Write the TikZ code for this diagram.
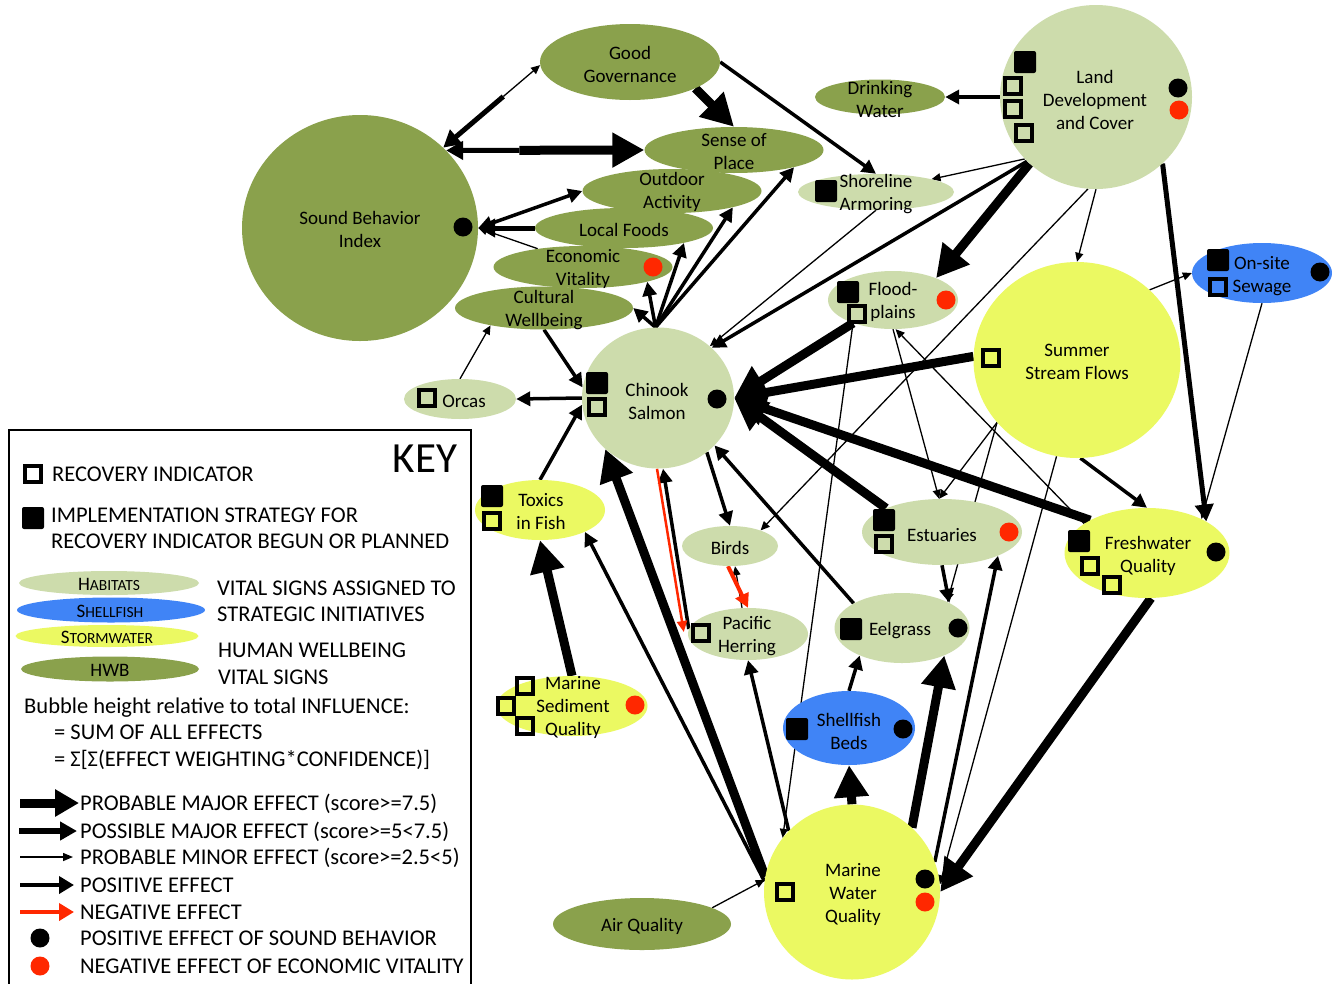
\documentclass[tikz,border=0pt]{standalone}
\usepackage{fontspec}
\setmainfont{Carlito}
\usetikzlibrary{shapes.geometric,arrows.meta,calc}
\definecolor{hwbc}{RGB}{138,161,76}
\definecolor{habc}{RGB}{205,220,172}
\definecolor{shfc}{RGB}{64,132,246}
\definecolor{stwc}{RGB}{235,249,98}
\definecolor{redc}{RGB}{255,40,0}
\pgfdeclarelayer{bg}
\pgfdeclarelayer{edges}
\pgfsetlayers{bg,edges,main}
\newcommand\OSq[2]{\draw[line width=3.5pt] (#1-8,#2-8) rectangle (#1+8,#2+8);}
\newcommand\FSq[2]{\fill[rounded corners=2pt] (#1-11,#2-11) rectangle (#1+11,#2+11);}
\newcommand\BDot[2]{\fill (#1,#2) circle[radius=9.5pt];}
\newcommand\RDot[2]{\fill[redc] (#1,#2) circle[radius=9.5pt];}
\newcommand\SCap[2]{{\fontsize{19}{19}\selectfont #1}{\fontsize{15.5}{15.5}\selectfont #2}}
\begin{document}
\begin{tikzpicture}[x=1pt,y=-1pt,
  bub/.style={ellipse,inner sep=0pt,draw=none},
  sz/.style 2 args={minimum width=#1pt,minimum height=#2pt},
  hwb/.style={bub,fill=hwbc},
  hab/.style={bub,fill=habc},
  shf/.style={bub,fill=shfc},
  stw/.style={bub,fill=stwc},
  txt/.style={align=center,inner sep=0pt,font=\fontsize{19}{23}\selectfont},
  ktxt/.style={anchor=base west,inner sep=0pt,font=\fontsize{22.5}{27}\selectfont},
  major/.style={line width=9pt,-{Triangle[length=32pt,width=33pt]}},
  possmaj/.style={line width=5pt,-{Triangle[length=17pt,width=18pt]}},
  medium/.style={line width=3.5pt,-{Triangle[length=14pt,width=14pt]}},
  minor/.style={line width=1.3pt,-{Triangle[length=9pt,width=8pt]}},
  negthin/.style={draw=redc,line width=2.5pt,-{Triangle[length=11pt,width=10pt]}},
  negmed/.style={draw=redc,line width=4pt,-{Triangle[length=14pt,width=14pt]}},
]
\useasboundingbox (0,0) rectangle (1340,983);
\begin{pgfonlayer}{bg}
\fill[white] (0,0) rectangle (1340,983);
\end{pgfonlayer}

% ---------- bubbles ----------
\node[hwb,sz={236}{226}] (sbi) at (360,228) {};
\node[hwb,sz={180}{76}] (gg) at (630,62) {};
\node[hwb,sz={179}{46}] (sop) at (734,150) {};
\node[hwb,sz={179}{44}] (oa) at (672,191) {};
\node[hwb,sz={178}{40}] (lf) at (624,228) {};
\node[hwb,sz={179}{42}] (ev) at (583,267) {};
\node[hwb,sz={178}{43}] (cw) at (544,308) {};
\node[hwb,sz={130}{35}] (drink) at (880,97) {};
\node[hwb,sz={178}{52}] (air) at (642,924) {};

\node[hab,sz={192}{184}] (ld) at (1096,97) {};
\node[hab,sz={156}{36}] (shore) at (876,192) {};
\node[hab,sz={130}{58}] (flood) at (893,300) {};
\node[hab,sz={152}{141}] (chinook) at (658,398) {};
\node[hab,sz={112}{40}] (orcas) at (460,399) {};
\node[hab,sz={96}{40}] (birds) at (730,546) {};
\node[hab,sz={120}{52}] (herring) at (748,634) {};
\node[hab,sz={160}{66}] (estu) at (942,532) {};
\node[hab,sz={135}{70}] (eel) at (902,628) {};

\node[shf,sz={140}{60}] (sewage) at (1262,273) {};
\node[shf,sz={132}{74}] (shell) at (849,728) {};

\node[stw,sz={207}{196}] (ssf) at (1077,360) {};
\node[stw,sz={165}{90}] (fq) at (1147,553) {};
\node[stw,sz={130}{60}] (toxics) at (540,510) {};
\node[stw,sz={151}{60}] (msq) at (572,706) {};
\node[stw,sz={176}{175}] (mwq) at (852,892) {};

% ---------- texts ----------
\node[txt] (sbiT) at (360,229) {Sound Behavior\\Index};
\node[txt] (ggT) at (630,64) {Good\\Governance};
\node[txt] (sopT) at (734,152) {Sense of\\Place};
\node[txt] (oaT) at (672,192) {Outdoor\\Activity};
\node[txt] (lfT) at (624,230) {Local Foods};
\node[txt] (evT) at (583,269) {Economic\\Vitality};
\node[txt] (cwT) at (544,310) {Cultural\\Wellbeing};
\node[txt] (drinkT) at (880,99) {Drinking\\Water};
\node[txt] (airT) at (642,926) {Air Quality};
\node[txt] (ldT) at (1095,100) {Land\\Development\\and Cover};
\node[txt] (shoreT) at (876,194) {Shoreline\\Armoring};
\node[txt] (floodT) at (893,302) {Flood-\\plains};
\node[txt] (chinookT) at (657,401) {Chinook\\Salmon};
\node[txt] (orcasT) at (464,401) {Orcas};
\node[txt] (birdsT) at (730,548) {Birds};
\node[txt] (herringT) at (747,636) {Pacific\\Herring};
\node[txt] (estuT) at (942,535) {Estuaries};
\node[txt] (eelT) at (900,631) {Eelgrass};
\node[txt] (sewageT) at (1262,276) {On-site\\Sewage};
\node[txt] (shellT) at (849,731) {Shellfish\\Beds};
\node[txt] (ssfT) at (1077,362) {Summer\\Stream Flows};
\node[txt] (fqT) at (1148,556) {Freshwater\\Quality};
\node[txt] (toxicsT) at (541,512) {Toxics\\ in Fish};
\node[txt] (msqT) at (573,707) {Marine\\Sediment\\Quality};
\node[txt] (mwqT) at (853,894) {Marine\\Water\\Quality};

% ---------- markers ----------
\FSq{1025}{62} \OSq{1013}{86} \OSq{1013}{109} \OSq{1024}{133}
\BDot{1178}{88} \RDot{1179}{110}
\FSq{826}{191}
\FSq{848}{292} \OSq{857}{314} \RDot{946}{300}
\FSq{597}{383} \OSq{597}{407} \BDot{717}{399}
\OSq{427}{398}
\FSq{492}{496} \OSq{492}{521}
\OSq{525}{686} \OSq{506}{706} \OSq{525}{726} \RDot{635}{705}
\OSq{701}{633}
\FSq{884}{520} \OSq{884}{544} \RDot{1009}{532}
\FSq{851}{629} \BDot{958}{628}
\FSq{1218}{260} \OSq{1218}{287} \BDot{1320}{272}
\FSq{797}{729} \BDot{903}{729}
\OSq{991}{358}
\FSq{1079}{541} \OSq{1090}{566} \OSq{1112}{585} \BDot{1216}{552}
\OSq{785}{892} \BDot{925}{879} \RDot{925}{902}
\BDot{463}{227}
\RDot{653}{267}

% ---------- connectors ----------
\begin{pgfonlayer}{edges}
% Sound behavior links
\coordinate (gsm) at ($(sbi.44)!0.62!(gg.182)$);
\draw[possmaj] (gsm) -- (sbi.44);
\draw[minor] (gsm) -- (gg.182);
\coordinate (ssm) at ($(sbi.42)!0.37!(sop.west)$);
\draw[possmaj] (ssm) -- (sbi.42);
\draw[major] (ssm) -- (sop.west);
\draw[medium,{Triangle[length=14pt,width=14pt]}-{Triangle[length=14pt,width=14pt]}] (sbi.east) -- (oa.west);
\draw[possmaj] (lf.west) -- (sbi.east);
\draw[minor] (ev.158) -- (sbi.east);
% Good governance
\draw[major] (gg.-22) -- (sop.north);
\draw[medium] (gg.east) -- (shore.north);
% Chinook to HWB
\draw[medium] (chinook.92) -- (sop.-16);
\draw[medium] (chinook.92) -- (oa.-15);
\draw[medium] (chinook.92) -- (lf.-14);
\draw[medium] (chinook.92) -- (ev.-13);
\draw[medium] (chinook.92) -- (cw.east);
\draw[medium] (cw.south) -- (chinook.172);
\draw[minor] (orcas.north) -- (cw.198);
\draw[medium] (chinook.180) -- (orcas.east);
\draw[medium] (toxics.north) -- (chinook.185);
\draw[major] (msq.north) -- (toxics.south);
\draw[medium] (mwq.173) -- (toxics.-26);
\draw[major] (mwq.170) -- (chinook.-136);
\draw[medium] ([xshift=1pt,yshift=5pt]herring.west) -- ([xshift=5pt]chinook.south);
\draw[negthin] ([xshift=-1pt]chinook.south) -- ([xshift=-4pt,yshift=2pt]herring.west);
\draw[medium] (chinook.-48) -- (birds.north);
\draw[medium] (eel.153) -- (chinook.-40);
\draw[minor] ([xshift=-6pt]herring.north) -- ([xshift=5pt]birds.south);
\draw[negmed] ([xshift=-2pt]birds.south) -- (herring.north);
\draw[medium] (mwq.136) -- (herring.south);
\draw[major] (mwq.north) -- (shell.south);
\draw[medium] (shell.north) -- (eel.-147);
\draw[major] (mwq.47) -- (eel.-33);
\draw[medium] (estu.south) -- (eel.28);
\draw[minor] (ssf.-142) -- (eel.30);
\draw[minor] (ssf.-142) -- (estu.95);
\draw[minor] (flood.south) -- (estu.95);
\draw[minor] (fq.155) -- (flood.-85);
\draw[minor] (flood.-150) -- (mwq.142);
% major arrows into Chinook
\draw[major] (flood.-150) -- (chinook.east);
\draw[major] (ssf.178) -- (chinook.east);
\draw[major] (estu.157) -- (chinook.east);
\draw[major] (fq.150) -- (chinook.east);
% Land development
\draw[medium] (ld.-137) -- (chinook.43);
\draw[minor] (shore.south) -- (chinook.45);
\draw[minor] (ld.-139) -- (shore.13);
\draw[major] (ld.-135) -- (flood.27);
\draw[medium] (ld.west) -- (drink.east);
\draw[minor] (ld.south) -- (ssf.north);
\draw[minor] (ld.-95) -- (birds.27);
\draw[possmaj] (ld.-45) -- (fq.28);
\draw[minor] (sewage.south) -- (fq.32);
\draw[minor] (ssf.44) -- (sewage.west);
\draw[medium] (ssf.-88) -- (fq.north);
\draw[minor] (ssf.-102) -- (mwq.5);
\draw[medium] (mwq.20) -- (estu.-23);
\draw[major] (fq.-85) -- (mwq.east);
\draw[minor] (air.13) -- (mwq.172);
\end{pgfonlayer}

% ---------- key ----------
\draw[line width=1.5pt] (9,430) rectangle (471,1000);
\node[inner sep=0pt,font=\fontsize{43}{43}\selectfont] (keyT) at (425,459) {KEY};
\OSq{33}{474}
\FSq{33}{518}
\node[ktxt] (k1) at (52,481) {RECOVERY INDICATOR};
\node[ktxt] (k2) at (51,522) {IMPLEMENTATION STRATEGY FOR};
\node[ktxt] (k3) at (51,548) {RECOVERY INDICATOR BEGUN OR PLANNED};
\node[hab,sz={180}{24}] (kHab) at (109,583) {};
\node[shf,sz={188}{25}] (kShf) at (111,610) {};
\node[stw,sz={183}{22}] (kStw) at (107,636) {};
\node[hwb,sz={178}{25}] (kHwb) at (110,669) {};
\node[inner sep=0pt] (kHabT) at (109,584) {\SCap{H}{ABITATS}};
\node[inner sep=0pt] (kShfT) at (110,611) {\SCap{S}{HELLFISH}};
\node[inner sep=0pt] (kStwT) at (107,637) {\SCap{S}{TORMWATER}};
\node[inner sep=0pt,font=\fontsize{19}{19}\selectfont] (kHwbT) at (110,670) {HWB};
\node[ktxt] (k4) at (217,595) {VITAL SIGNS ASSIGNED TO};
\node[ktxt] (k5) at (217,621) {STRATEGIC INITIATIVES};
\node[ktxt] (k6) at (218,657) {HUMAN WELLBEING};
\node[ktxt] (k7) at (218,684) {VITAL SIGNS};
\node[ktxt] (k8) at (24,713) {Bubble height relative to total INFLUENCE:};
\node[ktxt] (k9) at (54,739) {= SUM OF ALL EFFECTS};
\node[ktxt] (k10) at (54,766) {= Σ[Σ(EFFECT WEIGHTING*CONFIDENCE)]};
\coordinate (a1) at (20,803); \coordinate (b1) at (79,803);
\coordinate (a2) at (19,831); \coordinate (b2) at (77,831);
\coordinate (a3) at (20,857); \coordinate (b3) at (73,857);
\coordinate (a4) at (20,885); \coordinate (b4) at (74,885);
\coordinate (a5) at (20,912); \coordinate (b5) at (74,912);
\draw[line width=9pt,-{Triangle[length=24pt,width=26pt]}] (a1) -- (b1);
\draw[line width=5.5pt,-{Triangle[length=17pt,width=18pt]}] (a2) -- (b2);
\draw[line width=1.5pt,-{Triangle[length=10pt,width=8pt]}] (a3) -- (b3);
\draw[line width=4.5pt,-{Triangle[length=15pt,width=17pt]}] (a4) -- (b4);
\draw[draw=redc,line width=4.5pt,-{Triangle[length=15pt,width=17pt]}] (a5) -- (b5);
\node[ktxt] (k11) at (80,810) {PROBABLE MAJOR EFFECT (score>=7.5)};
\node[ktxt] (k12) at (80,838) {POSSIBLE MAJOR EFFECT (score>=5<7.5)};
\node[ktxt] (k13) at (80,864) {PROBABLE MINOR EFFECT (score>=2.5<5)};
\node[ktxt] (k14) at (80,892) {POSITIVE EFFECT};
\node[ktxt] (k15) at (80,919) {NEGATIVE EFFECT};
\BDot{40}{938}
\RDot{40}{966}
\node[ktxt] (k16) at (80,945) {POSITIVE EFFECT OF SOUND BEHAVIOR};
\node[ktxt] (k17) at (80,973) {NEGATIVE EFFECT OF ECONOMIC VITALITY};
\end{tikzpicture}
\end{document}
